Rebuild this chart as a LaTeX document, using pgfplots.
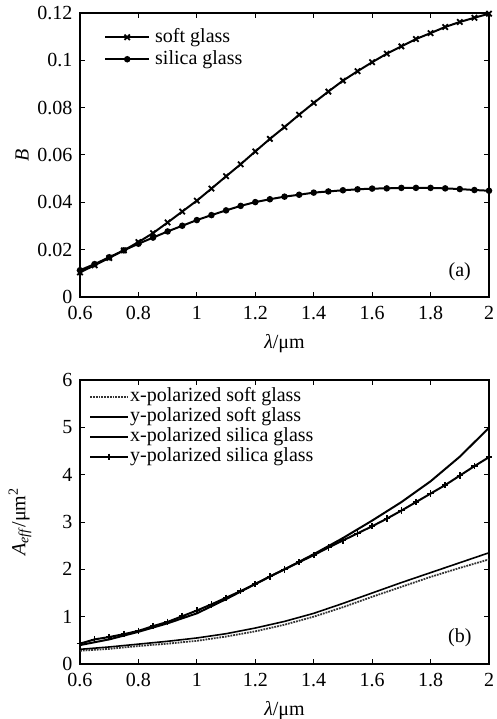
\documentclass[border=0pt]{standalone}
\usepackage{fontspec}
\setmainfont{Liberation Serif}
\usepackage{pgfplots}
\pgfplotsset{compat=1.18}

\pgfplotsset{
    panel/.style={
        scale only axis,
        width=409pt,
        height=284pt,
        xmin=0.6, xmax=2,
        xtick={0.6,0.8,1,1.2,1.4,1.6,1.8,2},
        xticklabels={0.6,0.8,1,1.2,1.4,1.6,1.8,2},
        tick align=inside,
        major tick length=5pt,
        axis line style={line width=1.2pt},
        every tick/.style={line width=1pt, black},
        font=\fontsize{20}{22}\selectfont,
        ticklabel style={font=\fontsize{20}{22}\selectfont},
        xticklabel style={yshift=-6pt},
        yticklabel style={xshift=-4pt},
        xlabel={\textit{λ}/μm},
        every axis x label/.style={at={(axis description cs:0.5,0)},
            yshift=-47pt, anchor=center},
        legend cell align=left,
        legend style={draw=none, fill=none, font=\fontsize{20}{22}\selectfont,
            inner sep=0pt,
            nodes={inner ysep=0pt, inner xsep=1pt, text height=14pt, text depth=4pt}},
    },
    wideline/.style={
        legend image code/.code={
            \draw[mark repeat=2,mark phase=2,##1]
                plot coordinates {(0pt,0pt) (22pt,0pt) (44pt,0pt)};}
    },
    shortline/.style={
        legend image code/.code={
            \draw[mark repeat=2,mark phase=2,##1]
                plot coordinates {(0pt,0pt) (19pt,0pt) (38pt,0pt)};}
    },
}

\begin{document}
\begin{tikzpicture}
\useasboundingbox (-80pt,-422pt) rectangle (416pt,297pt);

% (a) B versus wavelength
\begin{axis}[
    panel, wideline,
    at={(0pt,0pt)}, anchor=south west,
    ymin=0, ymax=0.12,
    ytick={0,0.02,0.04,0.06,0.08,0.1,0.12},
    yticklabels={0,0.02,0.04,0.06,0.08,0.1,0.12},
    ylabel={\textit{B}},
    every axis y label/.style={at={(axis description cs:0,0.5)},
        xshift=-58pt, rotate=90, anchor=center},
    legend style={at={(0.0587,0.947)}, anchor=north west, row sep=4pt,
        nodes={inner xsep=5pt}},
]
\addplot[black, line width=2pt, mark=x, mark size=3.8pt,
    mark options={line width=1.8pt}] coordinates {
    (0.60,0.0104) (0.65,0.0134) (0.70,0.0165) (0.75,0.0197) (0.80,0.0232)
    (0.85,0.0270) (0.90,0.0315) (0.95,0.0361) (1.00,0.0407) (1.05,0.0458)
    (1.10,0.0510) (1.15,0.0561) (1.20,0.0615) (1.25,0.0668) (1.30,0.0718)
    (1.35,0.0770) (1.40,0.0820) (1.45,0.0868) (1.50,0.0914) (1.55,0.0954)
    (1.60,0.0992) (1.65,0.1028) (1.70,0.1059) (1.75,0.1090) (1.80,0.1115)
    (1.85,0.1141) (1.90,0.1162) (1.95,0.1180) (2.00,0.1197)};
\addplot[black, line width=2pt, mark=*, mark size=2.2pt] coordinates {
    (0.60,0.0113) (0.65,0.0139) (0.70,0.0168) (0.75,0.0197) (0.80,0.0225)
    (0.85,0.0251) (0.90,0.0277) (0.95,0.0301) (1.00,0.0325) (1.05,0.0346)
    (1.10,0.0366) (1.15,0.0385) (1.20,0.0401) (1.25,0.0413) (1.30,0.0424)
    (1.35,0.0432) (1.40,0.0441) (1.45,0.0446) (1.50,0.0451) (1.55,0.0455)
    (1.60,0.0458) (1.65,0.0459) (1.70,0.0461) (1.75,0.0461) (1.80,0.0461)
    (1.85,0.0459) (1.90,0.0456) (1.95,0.0452) (2.00,0.0449)};
\legend{soft glass,silica glass}
\node at (axis cs:1.90,0.0106) {(a)};
\end{axis}

% (b) effective mode area
\begin{axis}[
    panel, shortline,
    at={(0pt,-367pt)}, anchor=south west,
    ymin=0, ymax=6,
    ytick={0,1,2,3,4,5,6},
    yticklabels={0,1,2,3,4,5,6},
    ylabel={\textit{A}\textsubscript{\textit{eff}}/μm\textsuperscript{2}},
    every axis y label/.style={at={(axis description cs:0,0.5)},
        xshift=-60pt, rotate=90, anchor=center},
    legend style={at={(0.022,0.973)}, anchor=north west, row sep=2pt},
]
\addplot[black!80, line width=1.8pt, densely dotted] coordinates {
    (0.6,0.28) (0.7,0.32) (0.8,0.38) (0.9,0.43) (1.0,0.49) (1.1,0.58)
    (1.2,0.69) (1.3,0.83) (1.4,1.00) (1.5,1.20) (1.6,1.42) (1.7,1.63)
    (1.8,1.84) (1.9,2.03) (2.0,2.21)};
\addplot[black, line width=1.6pt] coordinates {
    (0.6,0.31) (0.7,0.36) (0.8,0.42) (0.9,0.48) (1.0,0.55) (1.1,0.64)
    (1.2,0.76) (1.3,0.90) (1.4,1.07) (1.5,1.28) (1.6,1.50) (1.7,1.72)
    (1.8,1.93) (1.9,2.14) (2.0,2.35)};
\addplot[black, line width=2pt] coordinates {
    (0.6,0.40) (0.7,0.52) (0.8,0.68) (0.9,0.86) (1.0,1.07) (1.1,1.37)
    (1.2,1.69) (1.3,2.00) (1.4,2.32) (1.5,2.66) (1.6,3.03) (1.7,3.42)
    (1.8,3.86) (1.9,4.38) (2.0,4.99)};
\addplot[black, line width=2pt, mark=+, mark size=3.2pt,
    mark options={line width=1.6pt}] coordinates {
    (0.60,0.43) (0.65,0.52) (0.70,0.57) (0.75,0.63) (0.80,0.70)
    (0.85,0.80) (0.90,0.89) (0.95,1.01) (1.00,1.13) (1.05,1.26)
    (1.10,1.40) (1.15,1.54) (1.20,1.69) (1.25,1.85) (1.30,2.00)
    (1.35,2.15) (1.40,2.30) (1.45,2.46) (1.50,2.61) (1.55,2.76)
    (1.60,2.91) (1.65,3.07) (1.70,3.24) (1.75,3.42) (1.80,3.60)
    (1.85,3.78) (1.90,3.98) (1.95,4.18) (2.00,4.37)};
\legend{x-polarized soft glass,y-polarized soft glass,
    x-polarized silica glass,y-polarized silica glass}
\node at (axis cs:1.90,0.55) {(b)};
\end{axis}
\end{tikzpicture}
\end{document}
